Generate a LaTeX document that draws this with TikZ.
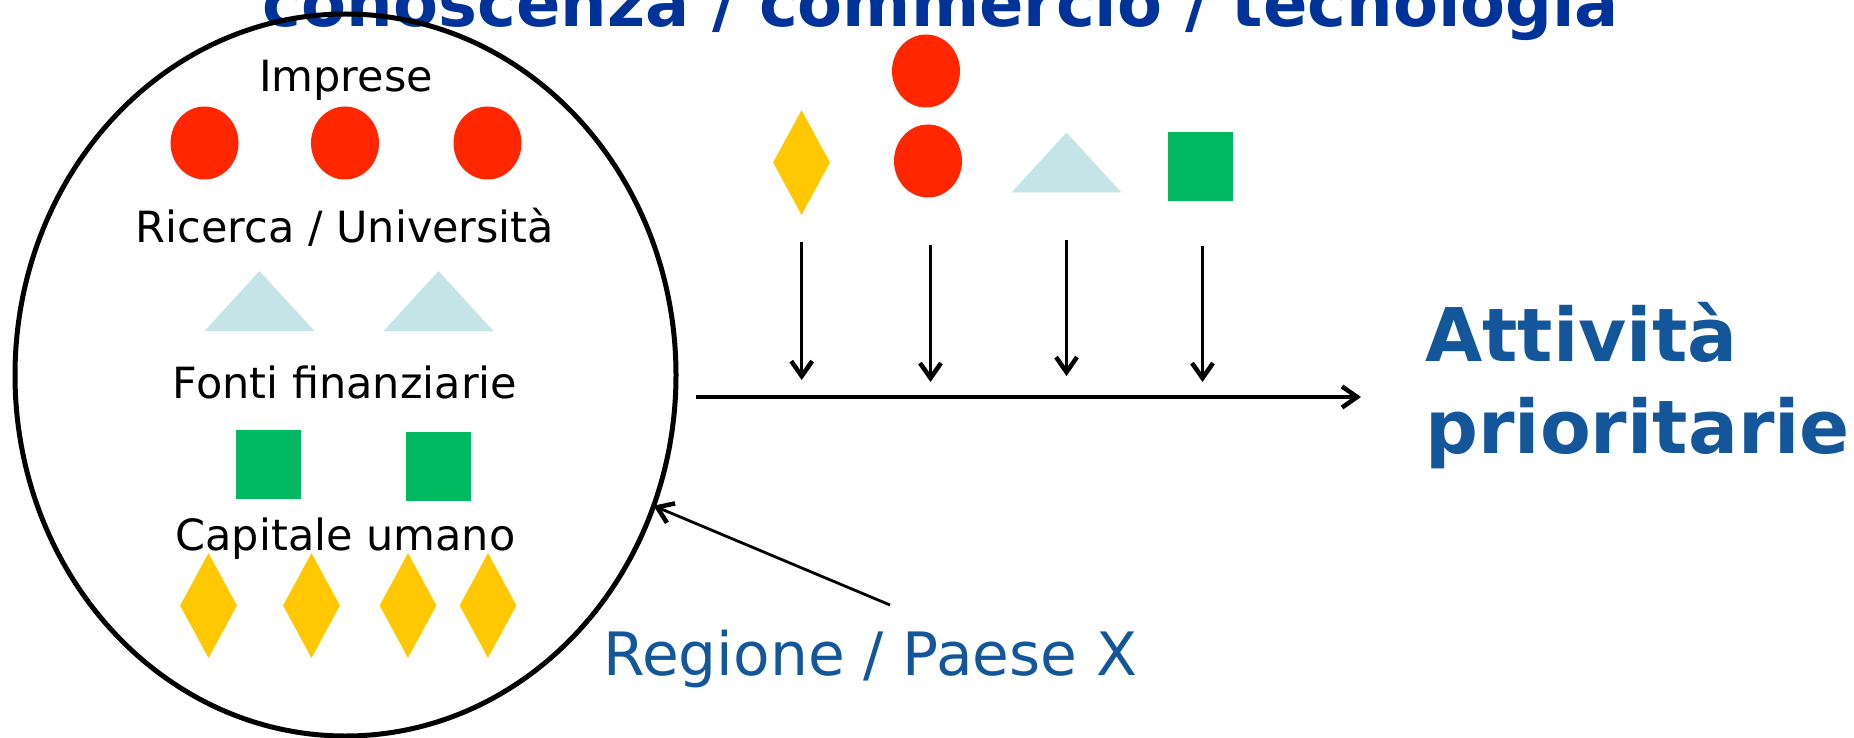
\documentclass[tikz,border=0pt]{standalone}
\usepackage{fontspec}
\setmainfont{DejaVu Sans}
\usetikzlibrary{shapes.geometric,arrows.meta}
\definecolor{firmred}{HTML}{FF2600}
\definecolor{unicyan}{HTML}{C5E4E8}
\definecolor{fundgreen}{HTML}{00B960}
\definecolor{peopleyellow}{HTML}{FFC800}
\definecolor{titleblue}{HTML}{003399}
\definecolor{regionblue}{HTML}{13569A}
\begin{document}
\begin{tikzpicture}[x=1pt,y=-1pt,>={Straight Barb[length=15pt,width=21pt,line width=4.5pt]}]
\tikzset{
  firm/.style={shape=ellipse,fill=firmred,minimum width=68,minimum height=73,inner sep=0},
  uni/.style={fill=unicyan},
  fund/.style={shape=rectangle,fill=fundgreen,minimum width=65,minimum height=69,inner sep=0},
  people/.style={shape=diamond,fill=peopleyellow,minimum width=57,minimum height=105,inner sep=0},
  lab/.style={anchor=base,inner sep=0,font=\fontsize{43}{50}\selectfont},
  flow/.style={->,line width=3pt}
}
\useasboundingbox (0,0) rectangle (1854,738);
\clip (0,0) rectangle (1854,738);
\node[anchor=base,inner sep=0,text=titleblue,font=\fontsize{65.5}{78}\selectfont\bfseries] (title) at (941,27) {conoscenza / commercio / tecnologia};
% region / country
\node[draw,line width=5pt,shape=ellipse,minimum width=661,minimum height=722,outer sep=0] (region) at (345.5,375) {};
\node[lab] (impr) at (346,92) {Imprese};
\node[firm] (f1) at (204.5,143) {};
\node[firm] (f2) at (345,143) {};
\node[firm] (f3) at (487.5,143) {};
\node[lab] (ric) at (345,242) {Ricerca / Università};
\fill[uni] (204.5,331) -- (259.5,271) -- (314.5,331) -- cycle;
\fill[uni] (383.5,331) -- (438.5,271) -- (493.5,331) -- cycle;
\node[lab] (fonti) at (345,398.5) {Fonti finanziarie};
\node[fund] (s1) at (268.5,464) {};
\node[fund] (s2) at (438.5,466) {};
\node[lab] (cap) at (345.5,550.7) {Capitale umano};
\node[people] (p1) at (208.5,605.5) {};
\node[people] (p2) at (311.5,605.5) {};
\node[people] (p3) at (408,605.5) {};
\node[people] (p4) at (488,605.5) {};
% outside flows
\node[firm] (rc1) at (926,71) {};
\node[people] (rp) at (801.5,162.5) {};
\node[firm] (rc2) at (928,161) {};
\fill[uni] (1011.5,192.5) -- (1066.5,132.5) -- (1121.5,192.5) -- cycle;
\node[fund] (rs) at (1200.5,167) {};
\coordinate (a1) at (801.7,242);  \coordinate (b1) at (801.7,380);
\coordinate (a2) at (930.5,245);  \coordinate (b2) at (930.5,382);
\coordinate (a3) at (1066.5,240); \coordinate (b3) at (1066.5,376);
\coordinate (a4) at (1202.5,246); \coordinate (b4) at (1202.5,382);
\foreach \i in {1,...,4}
  \draw[flow] (a\i) -- (b\i);
\coordinate (h0) at (696,397);
\coordinate (h1) at (1361,397);
\draw[->,line width=3.2pt] (h0) -- (h1);
\node[anchor=base west,inner sep=0,align=left,text=regionblue,font=\fontsize{74}{92}\selectfont\bfseries] (act) at (1425,453) {Attività\\prioritarie};
\node[anchor=base west,inner sep=0,text=regionblue,font=\fontsize{59.8}{70}\selectfont] (paese) at (603,675) {Regione / Paese X};
\coordinate (r0) at (890,605);
\draw[->,line width=2.8pt] (r0) -- (region.-23);
\end{tikzpicture}
\end{document}
